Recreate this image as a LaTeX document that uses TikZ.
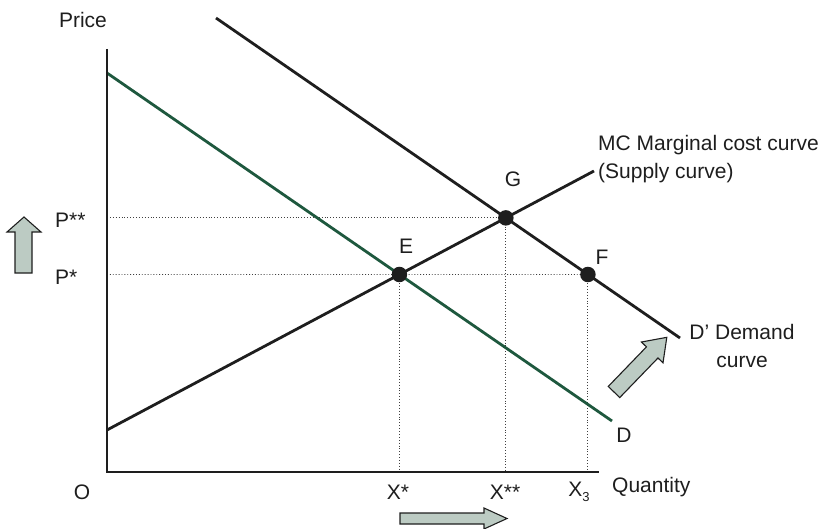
\documentclass[tikz,border=0pt]{standalone}
\usepackage{fontspec}
\setmainfont{Liberation Sans}
\definecolor{dgreen}{RGB}{30,88,62}
\definecolor{arrowfill}{RGB}{188,203,195}
\definecolor{ink}{RGB}{30,30,30}
\begin{document}
\begin{tikzpicture}[x=1pt,y=-1pt,
  lbl/.style={font=\fontsize{21}{27.5}\selectfont, inner sep=0pt, text=ink},
  curveline/.style={line width=2.8pt, ink},
  dline/.style={line width=2.8pt, dgreen},
  guide/.style={line width=0.9pt, dotted, black!75},
  pt/.style={circle, fill=ink, minimum size=15.5pt, inner sep=0pt},
  fatarrow/.style={draw=ink, line width=1.1pt, fill=arrowfill, line join=miter}]
\useasboundingbox (0,0) rectangle (824,529);

% axes
\coordinate (O) at (107,472);
\coordinate (ytop) at (107,49);
\coordinate (xend) at (599,472);

% curves
\coordinate (Ds) at (107,73);
\coordinate (De) at (612,421);
\coordinate (Dps) at (216,18);
\coordinate (Dpe) at (680,338);
\coordinate (Ss) at (107,430);
\coordinate (Se) at (594,171);

\coordinate (E) at (intersection of Ds--De and Ss--Se);
\coordinate (G) at (intersection of Dps--Dpe and Ss--Se);
\coordinate (Eh) at ([xshift=100pt]E);
\coordinate (F) at (intersection of Dps--Dpe and E--Eh);

% guides
\draw[guide] (O |- G) -- (G);
\draw[guide] (O |- E) -- (F);
\draw[guide] (E) -- (E |- O);
\draw[guide] (G) -- (G |- O);
\draw[guide] (F) -- (F |- O);

\draw[dline] (Ds) -- (De);
\draw[curveline] (Dps) -- (Dpe);
\draw[curveline] (Ss) -- (Se);
\draw[curveline] (ytop) -- (O) -- (xend);

\node[pt] (pE) at (E) {};
\node[pt] (pG) at (G) {};
\node[pt] (pF) at (F) {};

% labels
\node[lbl] (price) at (83,20) {Price};
\node[lbl] (origin) at (82,492) {O};
\node[lbl, anchor=west] (qty) at (612,487) {Quantity};
\node[lbl] (xs) at (398,492) {X*};
\node[lbl] (xss) at (505,492) {X**};
\node[lbl] (x3) at (579,492) {X\raisebox{-0.45ex}{\fontsize{13}{13}\selectfont 3}};
\node[lbl, anchor=west] (pss) at (55,220) {P**};
\node[lbl, anchor=west] (ps) at (55,277) {P*};
\node[lbl] (lE) at (406,246) {E};
\node[lbl] (lG) at (513,179) {G};
\node[lbl] (lF) at (602,257) {F};
\node[lbl] (lD) at (624,435) {D};
\node[lbl, align=center] (lDp) at (742,346) {D’ Demand\\curve};
\node[lbl, align=left, anchor=west] (lMC) at (598,159) {MC Marginal cost curve\\(Supply curve)};

% shift arrows
\draw[fatarrow] (15,273) -- (32,273) -- (32,232) -- (41,232) -- (24,217) -- (7,232) -- (15,232) -- cycle;
\draw[fatarrow] (400,513) -- (484,513) -- (484,508) -- (507,518.5) -- (484,529) -- (484,524) -- (400,524) -- cycle;
\begin{scope}[shift={(614,392)}, rotate=46]
\draw[fatarrow] (0,-8) -- (55,-8) -- (55,-15) -- (76,0) -- (55,15) -- (55,8) -- (0,8) -- cycle;
\end{scope}
\end{tikzpicture}
\end{document}
